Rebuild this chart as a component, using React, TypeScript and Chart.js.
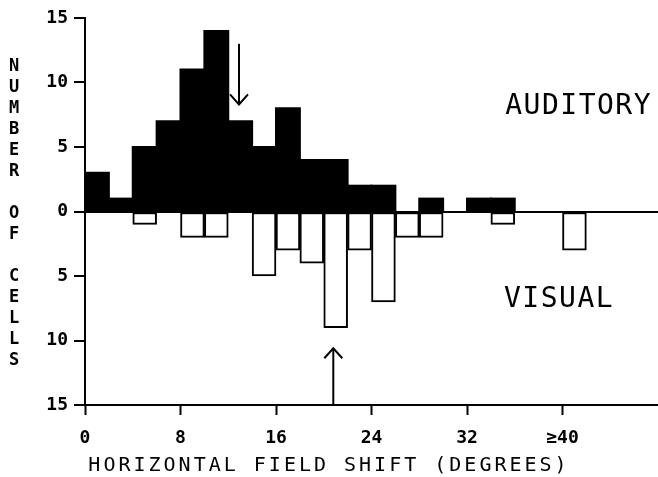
import React, { useEffect, useRef } from "react";
import { Chart, registerables } from "chart.js";

Chart.register(...registerables);

// Bin starts (degrees); each bin is 2 degrees wide
const binStarts = [0, 2, 4, 6, 8, 10, 12, 14, 16, 18, 20, 22, 24, 26, 28, 30, 32, 34, 36, 38, 40];
const binWidth = 2;
// Number of cells per bin
const auditoryCounts = [3, 1, 5, 7, 11, 14, 7, 5, 8, 4, 4, 2, 2, 0, 1, 0, 1, 1, 0, 0, 0];
const visualCounts = [0, 0, 1, 0, 2, 2, 0, 5, 3, 4, 9, 3, 7, 2, 2, 0, 0, 1, 0, 0, 3];

const xTickValues = [0, 8, 16, 24, 32, 40];
const xTickLabels = ["0", "8", "16", "24", "32", "≥40"];
const yTickValues = [15, 10, 5, 0, -5, -10, -15];

// Mean markers (arrows): x in degrees, from/to in cell counts (visual below zero)
const auditoryMean = 12.9;
const visualMean = 20.8;
const arrows = [
  { x: auditoryMean, from: 13.0, to: 8.3 },
  { x: visualMean, from: -15, to: -10.6 },
];

const seriesNotes = [
  { text: "AUDITORY", x: 35.2, y: 8.1 },
  { text: "VISUAL", x: 35.1, y: -6.8 },
];

const xTitle = "HORIZONTAL FIELD SHIFT (DEGREES)";
const yTitle = "NUMBER OF CELLS";

const FONT = "'DejaVu Sans Mono', monospace";

export default function App() {
  const ref = useRef<HTMLCanvasElement | null>(null);

  useEffect(() => {
    const canvas = ref.current;
    if (!canvas) return;
    Chart.defaults.font.family = FONT;
    Chart.defaults.color = "#000";

    const audData = binStarts.map((b, i) => ({ x: b + binWidth / 2, y: auditoryCounts[i] === 0 ? null : auditoryCounts[i] }));
    const visData = binStarts.map((b, i) => ({ x: b + binWidth / 2, y: visualCounts[i] === 0 ? null : -visualCounts[i] }));

    const annotate = {
      id: "annotate",
      afterDatasetsDraw(chart: any) {
        const ctx = chart.ctx as CanvasRenderingContext2D;
        const xs = chart.scales.x;
        const ys = chart.scales.y;
        ctx.save();
        // arrows
        ctx.strokeStyle = "#000";
        ctx.lineWidth = 2;
        arrows.forEach((a) => {
          const px = xs.getPixelForValue(a.x);
          const p1 = ys.getPixelForValue(a.from);
          const p2 = ys.getPixelForValue(a.to);
          const dir = p2 > p1 ? 1 : -1;
          ctx.beginPath();
          ctx.moveTo(px, p1);
          ctx.lineTo(px, p2);
          ctx.stroke();
          ctx.beginPath();
          ctx.moveTo(px - 9, p2 - dir * 10);
          ctx.lineTo(px, p2);
          ctx.lineTo(px + 9, p2 - dir * 10);
          ctx.stroke();
        });
        // series notes
        ctx.fillStyle = "#000";
        ctx.font = `28px ${FONT}`;
        (ctx as any).letterSpacing = "1.5px";
        ctx.textAlign = "left";
        ctx.textBaseline = "middle";
        seriesNotes.forEach((n) => {
          ctx.fillText(n.text, xs.getPixelForValue(n.x), ys.getPixelForValue(n.y));
        });
        // x title
        ctx.font = `20px ${FONT}`;
        (ctx as any).letterSpacing = "3px";
        ctx.textAlign = "center";
        ctx.fillText(xTitle, 329, 466);
        // y title (stacked letters)
        (ctx as any).letterSpacing = "0px";
        ctx.font = `bold 17px ${FONT}`;
        for (let i = 0; i < yTitle.length; i++) {
          const ch = yTitle[i];
          if (ch === " ") continue;
          ctx.fillText(ch, 14, 67 + i * 21);
        }
        ctx.restore();
      },
    };

    const chart = new Chart(canvas, {
      type: "bar",
      data: {
        datasets: [
          {
            label: "Auditory",
            data: audData as any,
            backgroundColor: "#000",
            borderColor: "#000",
            borderWidth: 0,
            inflateAmount: 1,
            barPercentage: 1,
            categoryPercentage: 1,
          },
          {
            label: "Visual",
            data: visData as any,
            backgroundColor: "#fff",
            borderColor: "#000",
            borderWidth: 2,
            borderSkipped: false,
            barPercentage: 1,
            categoryPercentage: 1,
          },
        ],
      },
      options: {
        animation: false,
        responsive: false,
        events: [],
        layout: { padding: { top: 18, left: 0, right: 0, bottom: 0 } },
        plugins: { legend: { display: false }, tooltip: { enabled: false }, title: { display: false } },
        scales: {
          x: {
            type: "linear",
            stacked: true,
            offset: false,
            min: 0,
            max: 48,
            afterBuildTicks: (scale: any) => {
              scale.ticks = xTickValues.map((v) => ({ value: v }));
            },
            afterFit: (scale: any) => {
              scale.height = 72;
            },
            ticks: {
              autoSkip: false,
              maxRotation: 0,
              padding: 13,
              font: { size: 18, weight: "bold" },
              color: "#000",
              callback: (v: any) => {
                const i = xTickValues.indexOf(Number(v));
                return i >= 0 ? xTickLabels[i] : "";
              },
            },
            grid: {
              offset: false,
              drawOnChartArea: false,
              drawTicks: true,
              tickLength: 10,
              tickColor: "#000",
              tickWidth: 2,
            },
            border: { display: true, color: "#000", width: 2 },
          },
          y: {
            stacked: true,
            min: -15,
            max: 15,
            afterBuildTicks: (scale: any) => {
              scale.ticks = yTickValues.map((v) => ({ value: v }));
            },
            afterFit: (scale: any) => {
              scale.width = 85;
            },
            ticks: {
              padding: 6,
              font: { size: 18, weight: "bold" },
              color: "#000",
              callback: (v: any) => String(Math.abs(Number(v))),
            },
            grid: {
              drawOnChartArea: true,
              drawTicks: true,
              tickLength: 11,
              tickColor: "#000",
              tickWidth: 2,
              lineWidth: 2,
              color: (c: any) => (c.tick && c.tick.value === 0 ? "#000" : "rgba(0,0,0,0)"),
            },
            border: { display: true, color: "#000", width: 2 },
          },
        },
      },
      plugins: [annotate],
    });

    return () => chart.destroy();
  }, []);

  return (
    <div style={{ position: "absolute", left: 0, top: 0, width: 658, height: 477, background: "#fff" }}>
      <canvas ref={ref} width={658} height={477} style={{ display: "block", width: 658, height: 477 }} />
    </div>
  );
}
